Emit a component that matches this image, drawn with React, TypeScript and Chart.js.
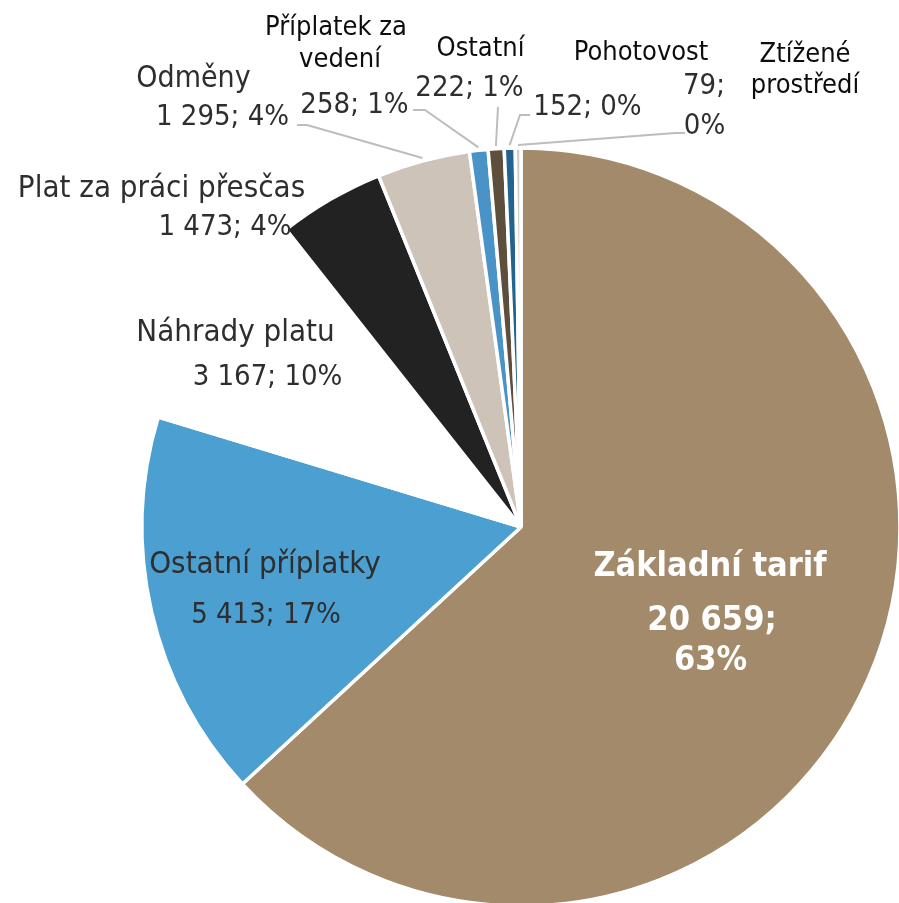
import React, { useEffect, useRef } from "react";
import { Chart, registerables } from "chart.js";

Chart.register(...registerables);

// ---- data ----
const categories = [
  "Základní tarif",
  "Ostatní příplatky",
  "Náhrady platu",
  "Plat za práci přesčas",
  "Odměny",
  "Příplatek za vedení",
  "Ostatní",
  "Pohotovost",
  "Ztížené prostředí",
];
const values = [20659, 5413, 3167, 1473, 1295, 258, 222, 152, 79];
const percents = ["63%", "17%", "10%", "4%", "4%", "1%", "1%", "0%", "0%"];

// ---- styles ----
const colors = [
  "#A28A6A",
  "#4B9FD1",
  "#FFFFFF",
  "#222222",
  "#CDC3B8",
  "#4993C6",
  "#5E4F3D",
  "#22638F",
  "#CCCCCC",
];
const DARK = "#2E2E2E";
const BLACK = "#0D0D0D";
const WHITE = "#FFFFFF";

type LineSpec = {
  part: string;
  x: number;
  y: number;
  size: number;
  bold?: boolean;
  color: string;
};

// label placement (text layout only)
const labelLayout: LineSpec[][] = [
  [
    { part: "name", x: 710, y: 576, size: 34, bold: true, color: WHITE },
    { part: "value1", x: 712, y: 630, size: 34, bold: true, color: WHITE },
    { part: "value2", x: 710.5, y: 670, size: 34, bold: true, color: WHITE },
  ],
  [
    { part: "name", x: 265, y: 573, size: 31, color: DARK },
    { part: "value", x: 266, y: 623, size: 29, color: DARK },
  ],
  [
    { part: "name", x: 235.5, y: 341, size: 31, color: DARK },
    { part: "value", x: 267.5, y: 385, size: 29, color: DARK },
  ],
  [
    { part: "name", x: 161.5, y: 197, size: 31, color: DARK },
    { part: "value", x: 225, y: 235, size: 29, color: DARK },
  ],
  [
    { part: "name", x: 193.5, y: 87, size: 30, color: DARK },
    { part: "value", x: 222.5, y: 125, size: 29, color: DARK },
  ],
  [
    { part: "nameA", x: 336, y: 35, size: 27, color: BLACK },
    { part: "nameB", x: 340, y: 67, size: 27, color: BLACK },
    { part: "value", x: 354.5, y: 113, size: 29, color: DARK },
  ],
  [
    { part: "name", x: 480.5, y: 56, size: 27, color: BLACK },
    { part: "value", x: 469.5, y: 96, size: 29, color: DARK },
  ],
  [
    { part: "name", x: 641, y: 60, size: 27, color: BLACK },
    { part: "value", x: 587.5, y: 115, size: 29, color: DARK },
  ],
  [
    { part: "nameA", x: 805, y: 62, size: 27, color: BLACK },
    { part: "nameB", x: 805, y: 93, size: 27, color: BLACK },
    { part: "value1", x: 704, y: 94, size: 29, color: DARK },
    { part: "value2", x: 704.5, y: 134, size: 29, color: DARK },
  ],
];

// leader line anchor points on the label side (null = no leader)
const leaderLayout: (number[][] | null)[] = [
  null,
  null,
  null,
  null,
  [
    [297, 125],
    [307, 125],
  ],
  [
    [413, 110],
    [425, 110],
  ],
  [[498, 107]],
  [
    [530, 115],
    [520, 115],
  ],
  [
    [685, 133],
    [675, 133],
  ],
];

const fmt = (v: number) => String(v).replace(/\B(?=(\d{3})+(?!\d))/g, " ");

function partText(i: number, part: string): string {
  const name = categories[i];
  const sp = name.lastIndexOf(" ");
  switch (part) {
    case "name":
      return name;
    case "nameA":
      return name.slice(0, sp);
    case "nameB":
      return name.slice(sp + 1);
    case "value":
      return fmt(values[i]) + "; " + percents[i];
    case "value1":
      return fmt(values[i]) + ";";
    case "value2":
      return percents[i];
  }
  return "";
}

export default function App() {
  const ref = useRef<HTMLCanvasElement | null>(null);

  useEffect(() => {
    const canvas = ref.current;
    if (!canvas) return;
    const mctx = canvas.getContext("2d")!;
    const sample = "Plat za práci přesčas";
    mctx.font = '30px "DejaVu Sans Condensed", "DejaVu Sans"';
    const w1 = mctx.measureText(sample).width;
    mctx.font = '30px "DejaVu Sans"';
    const w2 = mctx.measureText(sample).width;
    const condensed = w1 / w2 < 0.95;
    const family = condensed ? '"DejaVu Sans Condensed", "DejaVu Sans"' : '"DejaVu Sans"';
    const sx = condensed ? 1 : 0.9;

    const labelPlugin = {
      id: "pieLabels",
      afterDraw(chart: any) {
        const ctx = chart.ctx as CanvasRenderingContext2D;
        const meta = chart.getDatasetMeta(0);
        ctx.save();
        // leader lines
        ctx.strokeStyle = "#BDBDBD";
        ctx.lineWidth = 2;
        meta.data.forEach((arc: any, i: number) => {
          const pts = leaderLayout[i];
          if (!pts) return;
          const mid = (arc.startAngle + arc.endAngle) / 2;
          const r = arc.outerRadius + 3;
          const ax = arc.x + Math.cos(mid) * r;
          const ay = arc.y + Math.sin(mid) * r;
          ctx.beginPath();
          ctx.moveTo(pts[0][0], pts[0][1]);
          for (let k = 1; k < pts.length; k++) ctx.lineTo(pts[k][0], pts[k][1]);
          ctx.lineTo(ax, ay);
          ctx.stroke();
        });
        // texts
        ctx.textAlign = "center";
        ctx.textBaseline = "alphabetic";
        labelLayout.forEach((lines, i) => {
          lines.forEach((ln) => {
            ctx.font = `${ln.bold ? "bold " : ""}${ln.size}px ${family}`;
            ctx.fillStyle = ln.color;
            ctx.save();
            ctx.translate(ln.x, ln.y);
            ctx.scale(sx, 1);
            ctx.fillText(partText(i, ln.part), 0, 0);
            ctx.restore();
          });
        });
        ctx.restore();
      },
    };

    const chart = new Chart(canvas, {
      type: "pie",
      data: {
        labels: categories,
        datasets: [
          {
            data: values,
            backgroundColor: colors,
            borderColor: "#FFFFFF",
            borderWidth: 3.5,
            radius: 379,
          } as any,
        ],
      },
      options: {
        animation: false,
        responsive: false,
        devicePixelRatio: 1,
        events: [],
        layout: { padding: { left: 143, top: 151, right: 0, bottom: 0 } },
        plugins: {
          legend: { display: false },
          tooltip: { enabled: false },
        },
      },
      plugins: [labelPlugin],
    });
    return () => chart.destroy();
  }, []);

  return (
    <div
      style={{
        position: "absolute",
        left: 0,
        top: 0,
        width: 899,
        height: 903,
        background: "#FFFFFF",
      }}
    >
      <canvas ref={ref} width={899} height={903} style={{ display: "block" }} />
    </div>
  );
}
